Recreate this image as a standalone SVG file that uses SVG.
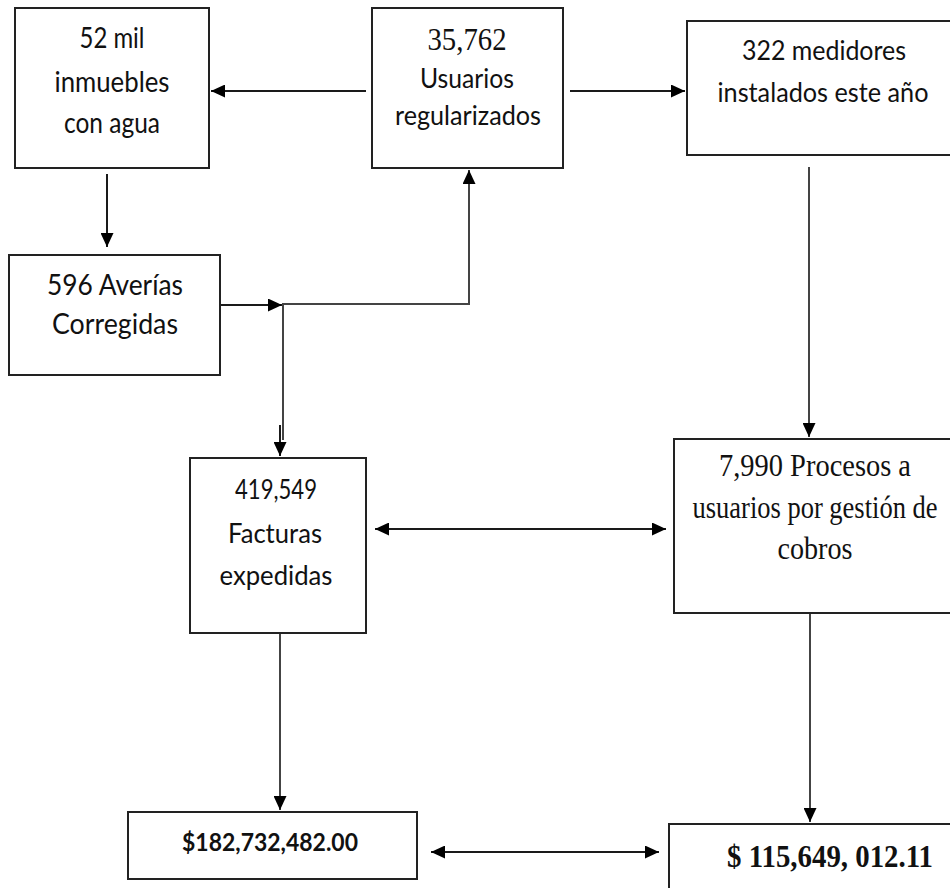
<svg xmlns="http://www.w3.org/2000/svg" width="950" height="888" viewBox="0 0 950 888">
<defs>
<style>
.box{fill:#fff;stroke:#222;stroke-width:2}
.c{stroke:#1a1a1a;stroke-width:2;fill:none}
.g{stroke:#444;stroke-width:2;fill:none}
.s{font-family:Lato,"Open Sans","Liberation Sans",sans-serif;fill:#111;text-anchor:middle}
.t{font-family:"Liberation Serif","Times New Roman",serif;fill:#111;text-anchor:middle}
.b{font-weight:bold}
</style>
<marker id="ah" viewBox="0 0 14 13" refX="14" refY="6.5" markerWidth="14" markerHeight="13" markerUnits="userSpaceOnUse" orient="auto-start-reverse">
<path d="M0,0 L14,6.5 L0,13 z" fill="#000"/>
</marker>
</defs>
<rect width="950" height="888" fill="#fff"/>
<g id="connectors">
<path class="c" d="M366,91 H211" marker-end="url(#ah)"/>
<path class="c" d="M570,91 H685" marker-end="url(#ah)"/>
<path class="c" d="M107,174 V247" marker-end="url(#ah)"/>
<path class="c" d="M220,305 H282" marker-end="url(#ah)"/>
<path class="g" d="M283,440 V304 H469 V170" marker-end="url(#ah)"/>
<path class="c" d="M280,425 V456" marker-end="url(#ah)"/>
<path class="g" d="M809,167 V437" marker-end="url(#ah)"/>
<path class="c" d="M375,529 H666" marker-start="url(#ah)" marker-end="url(#ah)"/>
<path class="g" d="M280,628 V810" marker-end="url(#ah)"/>
<path class="g" d="M810,613 V822" marker-end="url(#ah)"/>
<path class="c" d="M431,852 H659" marker-start="url(#ah)" marker-end="url(#ah)"/>
</g>
<g id="n1">
<rect class="box" x="15" y="8" width="194" height="160"/>
<text class="s" x="112" y="48" font-size="29" textLength="65" lengthAdjust="spacingAndGlyphs">52 mil</text>
<text class="s" x="112" y="92" font-size="29" textLength="115" lengthAdjust="spacingAndGlyphs">inmuebles</text>
<text class="s" x="112" y="133" font-size="29" textLength="96" lengthAdjust="spacingAndGlyphs">con agua</text>
</g>
<g id="n2">
<rect class="box" x="372" y="8" width="191" height="160"/>
<text class="t" x="467" y="50" font-size="32" textLength="79" lengthAdjust="spacingAndGlyphs">35,762</text>
<text class="s" x="467" y="88" font-size="26" textLength="94" lengthAdjust="spacingAndGlyphs">Usuarios</text>
<text class="s" x="468" y="125" font-size="26" textLength="146" lengthAdjust="spacingAndGlyphs">regularizados</text>
</g>
<g id="n3">
<rect class="box" x="9" y="255" width="211" height="120"/>
<text class="s" x="115" y="295" font-size="28" textLength="136" lengthAdjust="spacingAndGlyphs">596 Averías</text>
<text class="s" x="115" y="334" font-size="28" textLength="126" lengthAdjust="spacingAndGlyphs">Corregidas</text>
</g>
<g id="n4">
<rect class="box" x="687" y="21" width="264" height="134"/>
<text class="s" x="824" y="60" font-size="27" textLength="164" lengthAdjust="spacingAndGlyphs">322 medidores</text>
<text class="s" x="823" y="102" font-size="27" textLength="211" lengthAdjust="spacingAndGlyphs">instalados este año</text>
</g>
<g id="n5">
<rect class="box" x="190" y="458" width="176" height="175"/>
<text class="s" x="276" y="499" font-size="26" textLength="82" lengthAdjust="spacingAndGlyphs">419,549</text>
<text class="s" x="275" y="543" font-size="26" textLength="94" lengthAdjust="spacingAndGlyphs">Facturas</text>
<text class="s" x="276" y="585" font-size="26" textLength="113" lengthAdjust="spacingAndGlyphs">expedidas</text>
</g>
<g id="n6">
<rect class="box" x="674" y="439" width="277" height="174"/>
<text class="t" x="815" y="476" font-size="32" textLength="192" lengthAdjust="spacingAndGlyphs">7,990 Procesos a</text>
<text class="t" x="815" y="518" font-size="32" textLength="245" lengthAdjust="spacingAndGlyphs">usuarios por gestión de</text>
<text class="t" x="815" y="559" font-size="32" textLength="75" lengthAdjust="spacingAndGlyphs">cobros</text>
</g>
<g id="n7">
<rect class="box" x="128" y="812" width="289" height="67"/>
<text class="s b" x="270" y="851" font-size="25" textLength="176" lengthAdjust="spacingAndGlyphs">$182,732,482.00</text>
</g>
<g id="n8">
<rect class="box" x="669" y="824" width="282" height="65"/>
<text class="t b" x="830" y="867" font-size="32" textLength="206" lengthAdjust="spacingAndGlyphs">$ 115,649, 012.11</text>
</g>
</svg>
